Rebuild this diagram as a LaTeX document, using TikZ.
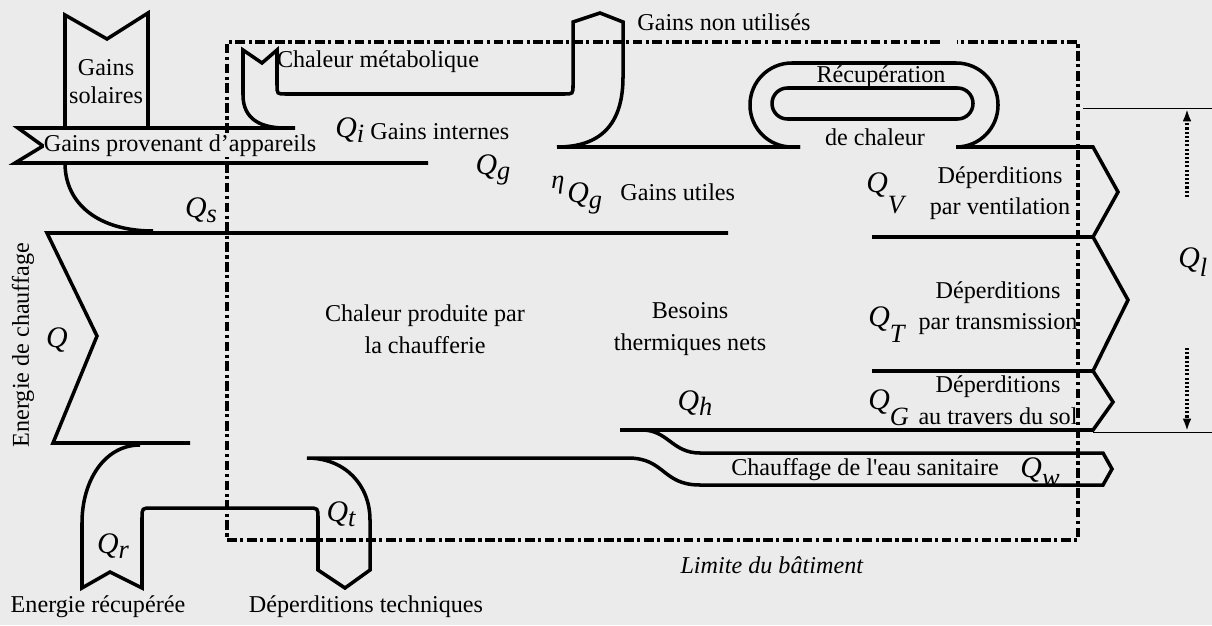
\documentclass[tikz,border=0pt]{standalone}
\usepackage{fontspec}
\setmainfont{Liberation Serif}
\usetikzlibrary{arrows.meta}
\definecolor{paper}{RGB}{235,235,235}
\newcommand{\flow}[2][3pt]{{\fontsize{17}{17}\selectfont\itshape Q\raisebox{-#1}{\fontsize{15}{15}\selectfont #2}}}

\begin{document}
\begin{tikzpicture}[
                x = 0.02cm, y = -0.02cm,
                stream/.style = {line width = 2pt, line join = miter},
                limit/.style = {
                    line width   = 1.9pt,
                    dash pattern = on 5.5pt off 2pt on 1.8pt off 2pt
                },
                refline/.style = {line width = 0.5pt},
                dotarrow/.style = {
                    line width   = 2pt,
                    dash pattern = on 1.2pt off 1.2pt,
                    -{Latex[length = 7pt, width = 5pt]}
                },
                txt/.style = {
                    inner sep = 0pt,
                    align     = center,
                    font      = \fontsize{13.75}{16}\selectfont
                },
                qlabel/.style = {inner sep = 0pt}
            ]

                \fill[paper] (0, 0) rectangle (1212, 625);
                \useasboundingbox (0, 0) rectangle (1212, 625);

                % limite du batiment
                \draw[limit] (940, 42) -- (227, 42) -- (227, 540) -- (1078, 540) -- (1078, 42) -- (957, 42);

                % apports
                \draw[stream] (65, 128) -- (65, 15) -- (107, 39) -- (148, 13) -- (148, 128);
                \draw[stream] (295, 128) -- (18, 128) -- (43, 146) -- (15, 163) -- (428, 163);
                \draw[stream] (65, 163) .. controls (65, 205) and (100, 231) .. (153, 231);
                \draw[stream] (285, 128) .. controls (262, 128) and (243, 120) .. (243, 95)
                    -- (243, 50) -- (262, 63) -- (277, 50) -- (277, 85)
                    .. controls (277, 94) .. (286, 94) -- (564, 94)
                    .. controls (573, 94) .. (573, 85) -- (573, 22) -- (600, 13) -- (623, 22)
                    -- (623, 77) .. controls (623, 125) and (600, 147) .. (557, 147) -- (800, 147);

                % recuperation
                \draw[stream, rounded corners = 23.8pt] (956, 147) -- (998, 147) -- (998, 63)
                    -- (750, 63) -- (750, 147) -- (800, 147);
                \draw[stream, rounded corners = 8.8pt] (772, 88) rectangle (973, 119);

                % energie de chauffage
                \draw[stream] (728, 233) -- (47, 233) -- (97, 336) -- (53, 443) -- (190, 443);
                \draw[stream] (140, 445) .. controls (105, 445) and (82, 480) .. (82, 523)
                    -- (82, 588) -- (110, 572) -- (142, 588) -- (142, 518)
                    .. controls (142, 508) .. (152, 508) -- (308, 508)
                    .. controls (318, 508) .. (318, 518) -- (318, 570) -- (345, 588) -- (370, 570)
                    -- (370, 520) .. controls (370, 485) and (345, 458) .. (307, 458) -- (628, 458)
                    .. controls (665, 458) and (662, 485) .. (700, 485) -- (1103, 485)
                    -- (1112, 469) -- (1103, 453) -- (700, 453)
                    .. controls (672, 453) and (668, 430) .. (642, 430);

                % deperditions
                \draw[stream] (956, 147) -- (1093, 147) -- (1118, 192) -- (1093, 237) -- (1128, 300)
                    -- (1093, 371) -- (1113, 402) -- (1093, 430) -- (620, 430);
                \draw[stream] (872, 237) -- (1093, 237);
                \draw[stream] (872, 371) -- (1093, 371);

                % Q_l
                \draw[refline] (1083, 108) -- (1212, 108);
                \draw[refline] (1093, 432) -- (1212, 432);
                \draw[dotarrow] (1187, 197) -- (1187, 109);
                \draw[dotarrow] (1187, 348) -- (1187, 431);

                \node[txt] (solaires)   at (106, 82)  {Gains\\[0pt]solaires};
                \node[txt, fill = paper] (appareils) at (180, 146) {Gains provenant d’appareils};
                \node[txt] (metab)      at (378, 62)  {Chaleur métabolique};
                \node[txt, anchor = west] (nonutil) at (637, 22) {Gains non utilisés};
                \node[qlabel, anchor = west] (qi) at (335, 130) {\flow{i}};
                \node[txt, anchor = west] (internes) at (370, 132) {Gains internes};
                \node[qlabel] (qg) at (493, 170) {\flow{g}};
                \node[qlabel, anchor = west] (etaqg) at (551, 195) {\raisebox{8pt}{\fontsize{15}{15}\selectfont\itshape η}\,\flow{g}};
                \node[txt, anchor = west] (utiles) at (620, 192) {Gains utiles};
                \node[qlabel] (qs) at (201, 210) {\flow{s}};
                \node[txt] (recup)      at (881, 77)  {Récupération};
                \node[txt] (dechaleur)  at (875, 137) {de chaleur};

                \node[txt, rotate = 90] (chauffage) at (23, 345) {Energie de chauffage};
                \node[qlabel] (q)       at (57, 340)  {\fontsize{17}{17}\selectfont\itshape Q};
                \node[txt] (produite)   at (425, 329) {Chaleur produite par\\[2pt]la chaufferie};
                \node[txt] (besoins)    at (690, 329) {Besoins\\[2pt]thermiques nets};

                \node[qlabel, anchor = west] (qv) at (866, 193) {\flow[12pt]{V}};
                \node[txt] (ventil)     at (1000, 193) {Déperditions\\[2pt]par ventilation};
                \node[qlabel, anchor = west] (qt) at (868, 325) {\flow[9pt]{T}};
                \node[txt] (transm)     at (998, 308) {Déperditions\\[2pt]par transmission};
                \node[qlabel, anchor = west] (qsol) at (868, 408) {\flow[9pt]{G}};
                \node[txt] (sol)        at (998, 400) {Déperditions\\[2pt]au travers du sol};
                \node[qlabel, anchor = west] (ql) at (1178, 262) {\flow[5pt]{l}};

                \node[qlabel] (qh)      at (695, 403) {\flow{h}};
                \node[txt] (eau)        at (865, 470) {Chauffage de l\textquotesingle eau sanitaire};
                \node[qlabel] (qw)      at (1040, 472) {\flow[5pt]{w}};
                \node[qlabel] (qtech)   at (341, 514) {\flow{t}};
                \node[qlabel] (qr)      at (113, 546) {\flow{r}};

                \node[txt] (recuperee)  at (98, 607)  {Energie récupérée};
                \node[txt] (techniques) at (366, 607) {Déperditions techniques};
                \node[txt] (limite)     at (772, 565) {\textit{Limite du bâtiment}};
            \end{tikzpicture}
\end{document}
